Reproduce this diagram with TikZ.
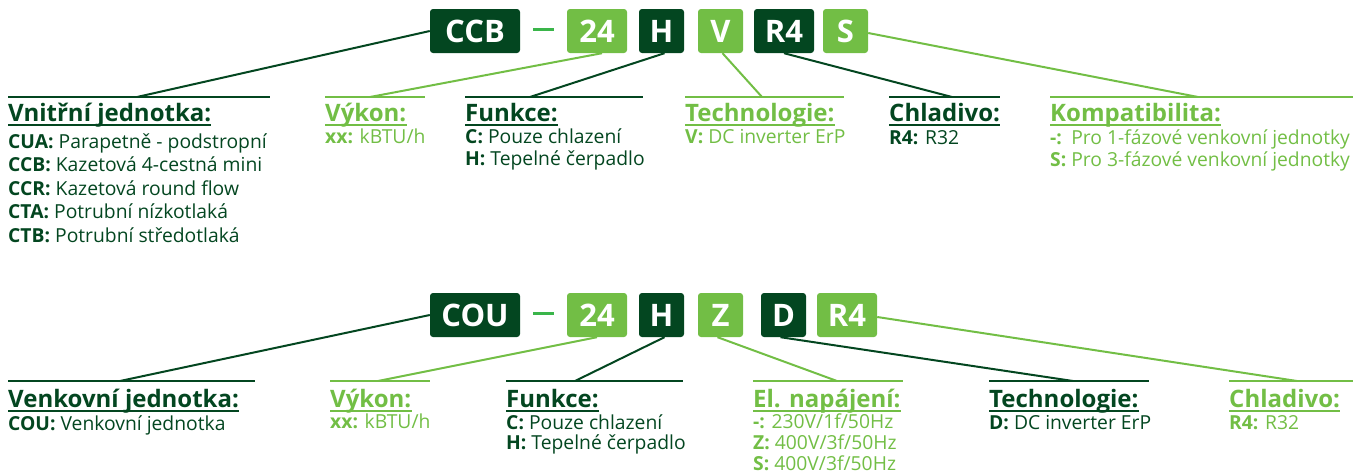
\documentclass[tikz,border=0pt]{standalone}
\usepackage{fontspec}
\setmainfont{Open Sans}
\definecolor{dkgreen}{RGB}{3,70,32}
\definecolor{ltgreen}{RGB}{114,190,69}
\definecolor{dashgreen}{RGB}{58,181,74}
\newcommand{\boxfont}{\fontsize{31}{33}\selectfont\bfseries}
\newcommand{\headfont}{\fontsize{24}{27}\selectfont\bfseries}
\newcommand{\bodyfont}{\fontsize{19.3}{22}\selectfont}
\begin{document}
\begin{tikzpicture}[x=1pt,y=-1pt,
  box/.style={rounded corners=3pt, minimum height=44pt, inner sep=0pt, text=white, font=\boxfont},
  dk/.style={fill=dkgreen},
  lt/.style={fill=ltgreen},
  head/.style={anchor=base west, inner sep=0pt, font=\headfont},
  body/.style={anchor=base west, inner sep=0pt, font=\bodyfont},
  conn/.style={line width=2pt},
  uline/.style={line width=2.6pt},
  hline/.style={line width=1.5pt},
  dashmark/.style={line width=3pt, dashgreen}]
\useasboundingbox (0,0) rectangle (1370,474);

% ---------- top row boxes ----------
\node[box,dk,minimum width=90pt] (ccb) at (475,31) {CCB};
\coordinate (d1a) at (533,29); \coordinate (d1b) at (554,29);
\draw[dashmark] (d1a) -- (d1b);
\node[box,lt,minimum width=60pt] (t24) at (597,31) {24};
\node[box,dk,minimum width=45pt] (th) at (661.5,31) {H};
\node[box,lt,minimum width=45pt] (tv) at (720.5,31) {V};
\node[box,dk,minimum width=60pt] (tr4) at (784,31) {R4};
\node[box,lt,minimum width=45pt] (ts) at (845.5,31) {S};

% ---------- top row underlines ----------
\coordinate (u1a) at (8,97);    \coordinate (u1b) at (270,97);   \coordinate (j1) at (137,97);
\coordinate (u2a) at (325,97);  \coordinate (u2b) at (425,97);   \coordinate (j2) at (370,97);
\coordinate (u3a) at (465,97);  \coordinate (u3b) at (643,97);   \coordinate (j3) at (530,97);
\coordinate (u4a) at (685,97);  \coordinate (u4b) at (844,97);   \coordinate (j4) at (762,97);
\coordinate (u5a) at (889,97);  \coordinate (u5b) at (1000,97);  \coordinate (j5) at (952,97);
\coordinate (u6a) at (1050,97); \coordinate (u6b) at (1353,97);  \coordinate (j6) at (1198,97);
\draw[uline,dkgreen] (u1a) -- (u1b);
\draw[uline,ltgreen] (u2a) -- (u2b);
\draw[uline,dkgreen] (u3a) -- (u3b);
\draw[uline,ltgreen] (u4a) -- (u4b);
\draw[uline,dkgreen] (u5a) -- (u5b);
\draw[uline,ltgreen] (u6a) -- (u6b);

\draw[conn,dkgreen] (ccb.west) -- (j1);
\draw[conn,ltgreen] ([xshift=5pt]t24.south) -- (j2);
\draw[conn,dkgreen] ([xshift=3pt]th.south) -- (j3);
\draw[conn,ltgreen] ([xshift=2pt]tv.south) -- (j4);
\draw[conn,dkgreen] (tr4.south) -- (j5);
\draw[conn,ltgreen] ([yshift=-2pt]ts.east) -- (j6);

% ---------- top row texts ----------
\node[head,text=dkgreen] (h1) at (8,121) {Vnitřní jednotka:};
\node[body,text=dkgreen] (b11) at (8,148) {\textbf{CUA:} Parapetně - podstropní};
\node[body,text=dkgreen] (b12) at (8,171.5) {\textbf{CCB:} Kazetová 4-cestná mini};
\node[body,text=dkgreen] (b13) at (8,195) {\textbf{CCR:} Kazetová round flow};
\node[body,text=dkgreen] (b14) at (8,218.5) {\textbf{CTA:} Potrubní nízkotlaká};
\node[body,text=dkgreen] (b15) at (8,242) {\textbf{CTB:} Potrubní středotlaká};

\node[head,text=ltgreen] (h2) at (325,121) {Výkon:};
\node[body,text=ltgreen] (b21) at (325,143) {\textbf{xx:} kBTU/h};

\node[head,text=dkgreen] (h3) at (465,121) {Funkce:};
\node[body,text=dkgreen] (b31) at (465,143) {\textbf{C:} Pouze chlazení};
\node[body,text=dkgreen] (b32) at (465,165) {\textbf{H:} Tepelné čerpadlo};

\node[head,text=ltgreen] (h4) at (685,121) {Technologie:};
\node[body,text=ltgreen] (b41) at (685,143) {\textbf{V:} DC inverter ErP};

\node[head,text=dkgreen] (h5) at (889,121) {Chladivo:};
\node[body,text=dkgreen] (b51) at (889,144) {\textbf{R4:} R32};

\node[head,text=ltgreen] (h6) at (1050,121) {Kompatibilita:};
\node[body,text=ltgreen] (b61) at (1050,144) {\rlap{\textbf{-:}}\hphantom{\textbf{S:}} Pro 1-fázové venkovní jednotky};
\node[body,text=ltgreen] (b62) at (1050,166) {\textbf{S:} Pro 3-fázové venkovní jednotky};

% ---------- bottom row boxes ----------
\node[box,dk,minimum width=90pt] (cou) at (475,315) {COU};
\coordinate (d2a) at (533,313); \coordinate (d2b) at (554,313);
\draw[dashmark] (d2a) -- (d2b);
\node[box,lt,minimum width=60pt] (b24) at (597,315) {24};
\node[box,dk,minimum width=45pt] (bh) at (661.5,315) {H};
\node[box,lt,minimum width=45pt] (bz) at (720.5,315) {Z};
\node[box,dk,minimum width=45pt] (bd) at (783.5,315) {D};
\node[box,lt,minimum width=60pt] (br4) at (847,315) {R4};

% ---------- bottom row underlines ----------
\coordinate (v1a) at (8,381);    \coordinate (v1b) at (255,381);   \coordinate (k1) at (120,381);
\coordinate (v2a) at (330,381);  \coordinate (v2b) at (430,381);   \coordinate (k2) at (378,381);
\coordinate (v3a) at (506,381);  \coordinate (v3b) at (683,381);   \coordinate (k3) at (575,381);
\coordinate (v4a) at (753,381);  \coordinate (v4b) at (903,381);   \coordinate (k4) at (837,381);
\coordinate (v5a) at (989,381);  \coordinate (v5b) at (1149,381);  \coordinate (k5) at (1073,381);
\coordinate (v6a) at (1229,381); \coordinate (v6b) at (1353,381);  \coordinate (k6) at (1297,381);
\draw[uline,dkgreen] (v1a) -- (v1b);
\draw[uline,ltgreen] (v2a) -- (v2b);
\draw[uline,dkgreen] (v3a) -- (v3b);
\draw[uline,ltgreen] (v4a) -- (v4b);
\draw[uline,dkgreen] (v5a) -- (v5b);
\draw[uline,ltgreen] (v6a) -- (v6b);

\draw[conn,dkgreen] (cou.west) -- (k1);
\draw[conn,ltgreen] (b24.south) -- (k2);
\draw[conn,dkgreen] ([xshift=3pt]bh.south) -- (k3);
\draw[conn,ltgreen] ([xshift=-3pt]bz.south) -- (k4);
\draw[conn,dkgreen] ([xshift=-3pt]bd.south) -- (k5);
\draw[conn,ltgreen] ([yshift=-2pt]br4.east) -- (k6);

% ---------- bottom row texts ----------
\node[head,text=dkgreen] (g1) at (8,407) {Venkovní jednotka:};
\node[body,text=dkgreen] (c11) at (8,430) {\textbf{COU:} Venkovní jednotka};

\node[head,text=ltgreen] (g2) at (330,407) {Výkon:};
\node[body,text=ltgreen] (c21) at (330,428) {\textbf{xx:} kBTU/h};

\node[head,text=dkgreen] (g3) at (506,407) {Funkce:};
\node[body,text=dkgreen] (c31) at (506,429) {\textbf{C:} Pouze chlazení};
\node[body,text=dkgreen] (c32) at (506,449) {\textbf{H:} Tepelné čerpadlo};

\node[head,text=ltgreen] (g4) at (753,407) {El. napájení:};
\node[body,text=ltgreen] (c41) at (753,428) {\textbf{-:} 230V/1f/50Hz};
\node[body,text=ltgreen] (c42) at (753,449) {\textbf{Z:} 400V/3f/50Hz};
\node[body,text=ltgreen] (c43) at (753,470) {\textbf{S:} 400V/3f/50Hz};

\node[head,text=dkgreen] (g5) at (989,407) {Technologie:};
\node[body,text=dkgreen] (c51) at (989,429) {\textbf{D:} DC inverter ErP};

\node[head,text=ltgreen] (g6) at (1229,407) {Chladivo:};
\node[body,text=ltgreen] (c61) at (1229,429) {\textbf{R4:} R32};

% ---------- heading underlines ----------
\foreach \n/\c in {h1/dkgreen,h2/ltgreen,h3/dkgreen,h4/ltgreen,h5/dkgreen,h6/ltgreen,
                   g1/dkgreen,g2/ltgreen,g3/dkgreen,g4/ltgreen,g5/dkgreen,g6/ltgreen}
  \draw[hline,\c] ([yshift=-4pt]\n.base west) -- ([yshift=-4pt]\n.base east);
\end{tikzpicture}
\end{document}
